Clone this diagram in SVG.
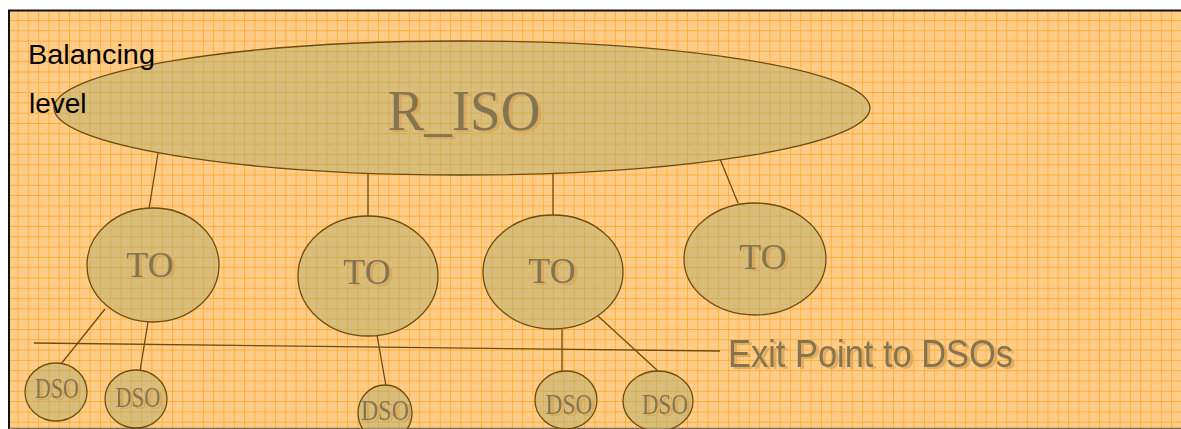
<svg xmlns="http://www.w3.org/2000/svg" width="1181" height="429" viewBox="0 0 1181 429">
<style>
.node{fill:#B1AD6E;fill-opacity:0.5;stroke:#6E4B0E;stroke-width:1.3}
.lbl{font-family:"Liberation Serif","Times New Roman",serif;fill:#837450;text-anchor:middle;filter:url(#shadow)}
.conn line{stroke:#6E4B0E;stroke-width:1.3}
.side{font-family:"Liberation Sans",Arial,sans-serif;fill:#000;font-size:28px}
</style>
<defs>
<pattern id="grid" patternUnits="userSpaceOnUse" x="7.2" y="9.7" width="10.3" height="10.3">
<rect width="10.3" height="10.3" fill="#FFCD88"/>
<rect x="2" y="2" width="2" height="2" fill="#FFC479" opacity="0.6"/>
<rect x="6" y="6" width="2" height="2" fill="#FFC479" opacity="0.6"/>
<path d="M0 0V10.3M0 0H10.3" stroke="#FFA21A" stroke-width="1.3" fill="none"/>
</pattern>
<filter id="shadow" x="-10%" y="-10%" width="130%" height="140%">
<feOffset in="SourceAlpha" dx="3" dy="2" result="off"/>
<feFlood flood-color="#D9A458" flood-opacity="0.8"/>
<feComposite in2="off" operator="in" result="sh"/>
<feMerge><feMergeNode in="sh"/><feMergeNode in="SourceGraphic"/></feMerge>
</filter>
</defs>
<rect width="1181" height="429" fill="#fff"/>
<rect x="8" y="10" width="1173" height="419" fill="url(#grid)"/>
<path d="M9 429V10.5H1181" fill="none" stroke="#111" stroke-width="2"/>
<line x1="9" y1="428.5" x2="1181" y2="428.5" stroke="#7A6B50" stroke-width="1.5"/>

<g class="conn">
<line x1="158" y1="153" x2="149" y2="209"/>
<line x1="368" y1="174" x2="368" y2="216"/>
<line x1="553" y1="174" x2="553" y2="216"/>
<line x1="720" y1="159" x2="738" y2="203"/>
<line x1="105" y1="309" x2="61" y2="364"/>
<line x1="148" y1="322" x2="140" y2="371"/>
<line x1="377" y1="335" x2="386" y2="386"/>
<line x1="562" y1="329" x2="562" y2="371"/>
<line x1="598" y1="316" x2="658" y2="371"/>
<line x1="34" y1="343" x2="720" y2="351"/>
</g>

<g id="riso">
<ellipse class="node" cx="462" cy="108" rx="408" ry="67"/>
<text class="lbl" x="464" y="130" font-size="58" textLength="153" lengthAdjust="spacingAndGlyphs">R_ISO</text>
</g>

<g id="to1">
<ellipse class="node" cx="153" cy="265" rx="66" ry="57"/>
<text class="lbl" x="150" y="277" font-size="36">TO</text>
</g>
<g id="to2">
<ellipse class="node" cx="368" cy="276" rx="70" ry="60"/>
<text class="lbl" x="367" y="284" font-size="36">TO</text>
</g>
<g id="to3">
<ellipse class="node" cx="553" cy="272" rx="70" ry="57"/>
<text class="lbl" x="552" y="283" font-size="36">TO</text>
</g>
<g id="to4">
<ellipse class="node" cx="755" cy="259" rx="71" ry="56"/>
<text class="lbl" x="763" y="269" font-size="36">TO</text>
</g>

<g id="dso1">
<ellipse class="node" cx="56" cy="392" rx="31" ry="29"/>
<text class="lbl" x="57" y="398" font-size="29" textLength="44" lengthAdjust="spacingAndGlyphs">DSO</text>
</g>
<g id="dso2">
<ellipse class="node" cx="136" cy="399" rx="31" ry="29"/>
<text class="lbl" x="138" y="407" font-size="29" textLength="45" lengthAdjust="spacingAndGlyphs">DSO</text>
</g>
<g id="dso3">
<ellipse class="node" cx="385" cy="413" rx="27" ry="28"/>
<text class="lbl" x="385" y="420" font-size="29" textLength="48" lengthAdjust="spacingAndGlyphs">DSO</text>
</g>
<g id="dso4">
<ellipse class="node" cx="566" cy="400" rx="31" ry="29"/>
<text class="lbl" x="569" y="414" font-size="29" textLength="47" lengthAdjust="spacingAndGlyphs">DSO</text>
</g>
<g id="dso5">
<ellipse class="node" cx="658" cy="401" rx="35" ry="30"/>
<text class="lbl" x="665" y="414" font-size="29" textLength="46" lengthAdjust="spacingAndGlyphs">DSO</text>
</g>

<g id="exit">
<text x="728" y="367" font-family="'Liberation Sans',Arial,sans-serif" font-size="38" fill="#837450" filter="url(#shadow)" textLength="285" lengthAdjust="spacingAndGlyphs">Exit Point to DSOs</text>
</g>

<g id="balancing">
<text class="side" x="28" y="64" textLength="127" lengthAdjust="spacingAndGlyphs">Balancing</text>
<text class="side" x="29" y="113">level</text>
</g>
</svg>
